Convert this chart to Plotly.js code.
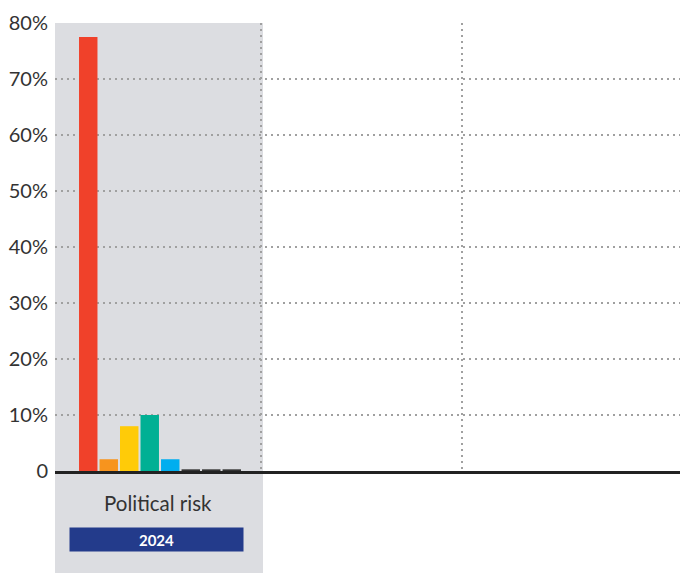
<!DOCTYPE html>
<html>
<head>
<meta charset="utf-8">
<script src="https://cdn.plot.ly/plotly-3.0.1.min.js"></script>
<style>html,body{margin:0;padding:0;background:#fff;}#chart{width:680px;height:573px;}</style>
</head>
<body>
<div id="chart"></div>
<script>
// ---- data ----
const categories = ["Political risk", "", ""];
const yearLabel = "2024";
const seriesNames = ["S1", "S2", "S3", "S4", "S5", "S6", "S7", "S8"];
const seriesColors = ["#f0412a", "#f7941e", "#ffcb08", "#00b094", "#00aeef", "#333333", "#333333", "#333333"];
const seriesValues = [
  [77.5], [2.1], [8.0], [10.0], [2.1], [0.3], [0.3], [0.3]
];
const yTickVals = [0, 10, 20, 30, 40, 50, 60, 70, 80];
const yTickText = ["0", "10%", "20%", "30%", "40%", "50%", "60%", "70%", "80%"];

const xpos = seriesValues[0].map((_, i) => i);
const traces = seriesValues.map((vals, k) => ({
  type: "bar",
  x: xpos,
  y: vals,
  name: seriesNames[k],
  marker: { color: seriesColors[k] },
  hoverinfo: "skip"
}));

const PL = 55, PR = 0, PT = 23, PB = 102;
const W = 680, H = 573;
const plotW = W - PL - PR, plotH = H - PT - PB;
const unit = 201;
const xmin = -(160 - PL) / unit;
const xmax = xmin + plotW / unit;
const FONT = "Lato, 'Open Sans', sans-serif";

const layout = {
  width: W, height: H,
  margin: { l: PL, r: PR, t: PT, b: PB, pad: 0 },
  paper_bgcolor: "#ffffff",
  plot_bgcolor: "rgba(0,0,0,0)",
  showlegend: false,
  barmode: "group",
  bargap: 0.184,
  bargroupgap: 0.1,
  font: { family: FONT, color: "#333333" },
  xaxis: {
    range: [xmin, xmax],
    tickvals: [0.5, 1.5],
    showticklabels: false,
    ticks: "",
    showgrid: true,
    gridcolor: "#a0a0a0",
    griddash: "2px,4px",
    gridwidth: 2,
    zeroline: false,
    showline: true,
    linecolor: "#222222",
    linewidth: 3,
    fixedrange: true
  },
  yaxis: {
    range: [0, 80],
    tickvals: yTickVals,
    ticktext: yTickText,
    ticks: "outside",
    ticklen: 2,
    tickcolor: "rgba(0,0,0,0)",
    tickfont: { family: FONT, size: 20, color: "#333333" },
    showgrid: true,
    gridcolor: "#a0a0a0",
    griddash: "2px,4px",
    gridwidth: 2,
    zeroline: false,
    showline: false,
    fixedrange: true
  },
  shapes: [
    {
      type: "rect", xref: "paper", yref: "paper", layer: "below",
      x0: 0, x1: (263 - PL) / plotW,
      y0: -(H - PT - plotH) / plotH, y1: 1,
      fillcolor: "#dcdde1", line: { width: 0 }
    }
  ],
  annotations: [
    {
      xref: "paper", yref: "paper", x: (158 - PL) / plotW, y: -32 / plotH,
      text: categories[0], showarrow: false,
      xanchor: "center", yanchor: "middle",
      font: { family: FONT, size: 20.5, color: "#333333" }
    },
    {
      xref: "paper", yref: "paper",
      x: (156.5 - PL) / plotW, y: -68.5 / plotH,
      text: "<b>" + yearLabel + "</b>", showarrow: false,
      xanchor: "center", yanchor: "middle",
      width: 173, height: 23, borderpad: 0,
      bgcolor: "#233b8b",
      font: { family: FONT, size: 15, color: "#ffffff" }
    }
  ]
};

Plotly.newPlot("chart", traces, layout, { displayModeBar: false, staticPlot: true });
</script>
</body>
</html>
